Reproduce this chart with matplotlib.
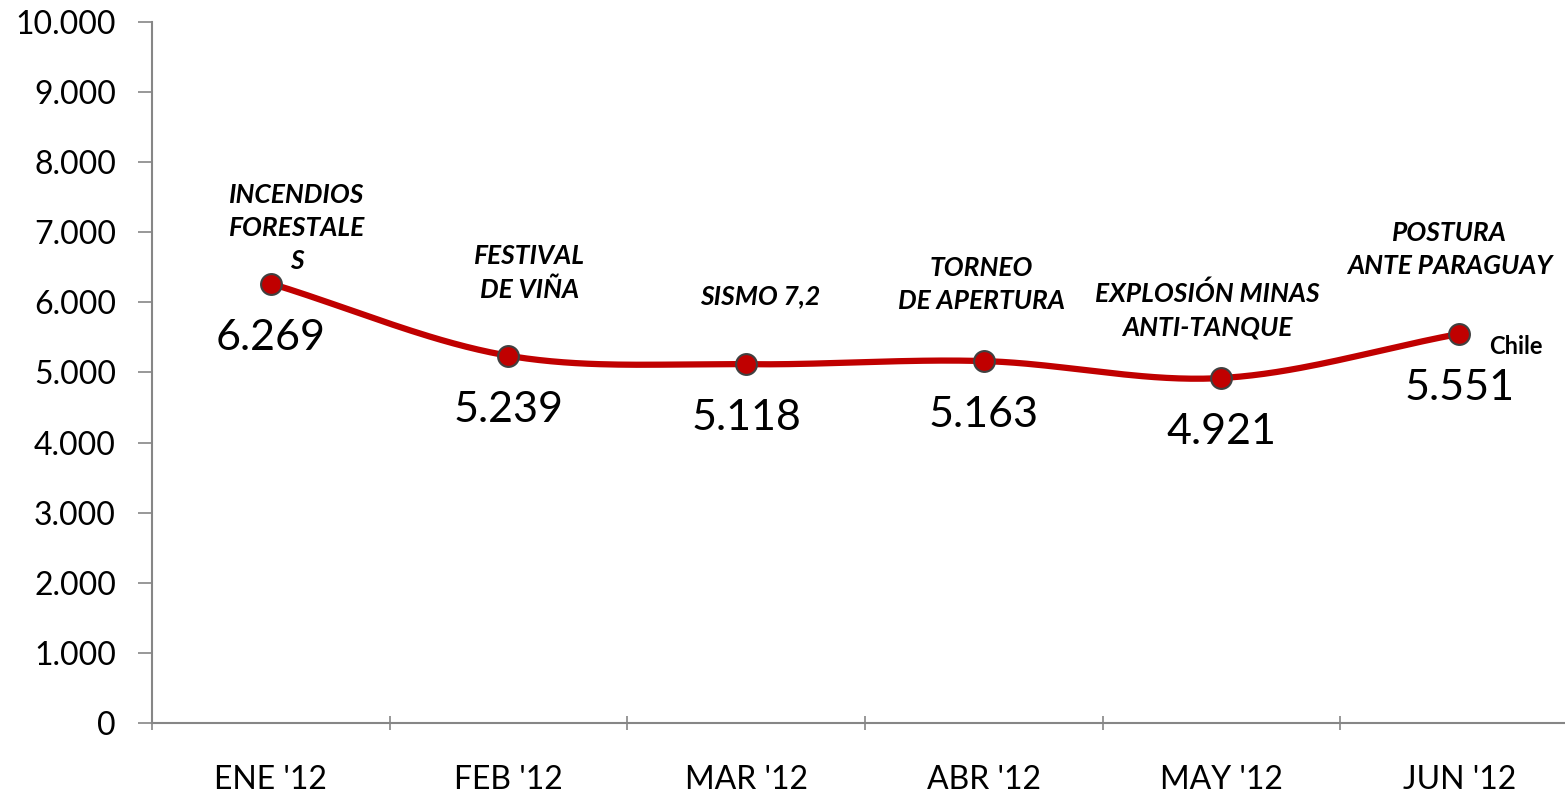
import matplotlib
matplotlib.use("Agg")
import matplotlib.pyplot as plt
from matplotlib.ticker import FuncFormatter, MultipleLocator, FixedLocator
import numpy as np

months = ["ENE '12", "FEB '12", "MAR '12", "ABR '12", "MAY '12", "JUN '12"]
values = [6269, 5239, 5118, 5163, 4921, 5551]
events = ["INCENDIOS\nFORESTALE\nS", "FESTIVAL\nDE VIÑA", "SISMO 7,2",
          "TORNEO\nDE APERTURA", "EXPLOSIÓN MINAS\nANTI-TANQUE",
          "POSTURA\nANTE PARAGUAY"]
# label anchor (x, y) in data units
event_pos = [(0.11, 7060), (1.09, 6420), (2.06, 6090), (2.99, 6250),
             (3.94, 5890), (4.96, 6750)]

plt.rcParams['font.family'] = ['Lato', 'DejaVu Sans']

RED = '#C00000'
GRAY = '#868686'


def fmt_thousands(v, pos):
    return f"{int(v):,}".replace(",", ".")


def catmull_rom(x, y, n=40):
    # smooth curve through points, like the spreadsheet "smoothed line"
    x = np.asarray(x, float)
    y = np.asarray(y, float)
    px = np.concatenate([[2 * x[0] - x[1]], x, [2 * x[-1] - x[-2]]])
    py = np.concatenate([[2 * y[0] - y[1]], y, [2 * y[-1] - y[-2]]])
    xs, ys = [], []
    t = np.linspace(0, 1, n)
    for i in range(1, len(px) - 2):
        for arr, out in ((px, xs), (py, ys)):
            p0, p1, p2, p3 = arr[i - 1], arr[i], arr[i + 1], arr[i + 2]
            out.append(0.5 * ((2 * p1) + (-p0 + p2) * t
                              + (2 * p0 - 5 * p1 + 4 * p2 - p3) * t ** 2
                              + (-p0 + 3 * p1 - 3 * p2 + p3) * t ** 3))
    return np.concatenate(xs), np.concatenate(ys)


fig = plt.figure(figsize=(15.65, 7.98), dpi=100)
W, H = 1565, 798
left, right, top, bottom = 152, 1578, 22, 723
ax = fig.add_axes([left / W, (H - bottom) / H, (right - left) / W, (bottom - top) / H])

xi = np.arange(len(months))
sx, sy = catmull_rom(xi, values)
ax.plot(sx, sy, color=RED, lw=4.5, solid_capstyle='round', zorder=2)
ax.plot(xi, values, 'o', ms=15, mfc=RED, mec='#404040', mew=1.5, zorder=3)

for x, v in zip(xi, values):
    ax.annotate(fmt_thousands(v, None), (x, v), xytext=(0, -54),
                textcoords='offset pixels', ha='center', va='center',
                fontsize=31, color='black')

for (ex, ey), txt in zip(event_pos, events):
    ax.text(ex, ey, txt, ha='center', va='center', fontsize=19,
            fontweight='bold', fontstyle='italic', linespacing=1.45)

ax.text(5.24, 5378, "Chile", ha='center', va='center', fontsize=17,
        fontweight='bold')

ax.set_xlim(-0.5, len(months) - 0.5)
ax.set_ylim(0, 10000)
ax.yaxis.set_major_locator(MultipleLocator(1000))
ax.yaxis.set_major_formatter(FuncFormatter(fmt_thousands))
ax.set_xticks(xi)
ax.set_xticklabels(months)
ax.xaxis.set_minor_locator(FixedLocator(np.arange(-0.5, len(months), 1.0)))
ax.tick_params(axis='x', which='major', length=0, pad=30, labelsize=23)
ax.tick_params(axis='x', which='minor', length=10, width=1.2, color=GRAY,
               direction='inout')
ax.tick_params(axis='y', length=10, width=1.2, color=GRAY, labelsize=23,
               direction='out', pad=16)

for s in ['top', 'right']:
    ax.spines[s].set_visible(False)
for s in ['left', 'bottom']:
    ax.spines[s].set_color(GRAY)
    ax.spines[s].set_linewidth(1.5)

fig.savefig("out.png", dpi=100)
